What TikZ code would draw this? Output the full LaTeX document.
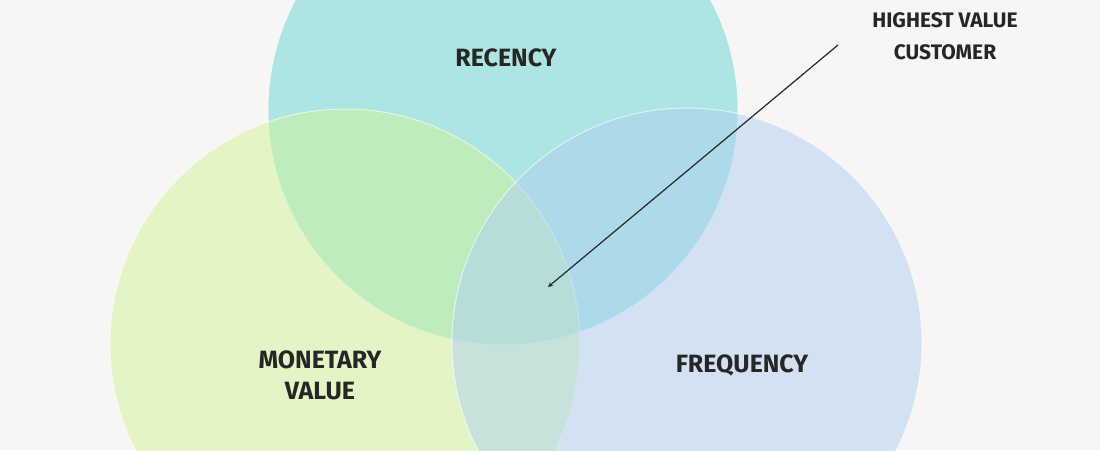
\documentclass[tikz,border=0pt]{standalone}
\usepackage{fontspec}
\setmainfont{Fira Sans}
\begin{document}
\begin{tikzpicture}[x=1pt,y=-1pt,
  circ/.style={fill opacity=0.5,draw=white,draw opacity=0.6,line width=1pt},
  lab/.style={font=\fontsize{25}{31}\selectfont\bfseries,align=center,text=black!85},
  ann/.style={font=\fontsize{21}{32}\selectfont\bfseries,align=center,text=black!85}]
\definecolor{bg}{RGB}{247,246,244}
\definecolor{rc}{RGB}{99,214,208}
\definecolor{mc}{RGB}{209,244,152}
\definecolor{fc}{RGB}{175,208,242}
\clip (0,0) rectangle (1100,450);
\fill[bg] (0,0) rectangle (1100,450);
\useasboundingbox (0,0) rectangle (1100,450);
\path[circ,fill=rc] (503,110) circle (235);
\path[circ,fill=mc] (345,344) circle (235);
\path[circ,fill=fc] (687,343) circle (235);
\node[lab] (r) at (506,58) {RECENCY};
\node[lab] (m) at (320,375) {MONETARY\\VALUE};
\node[lab] (f) at (742,365) {FREQUENCY};
\node[ann] (h) at (945,36) {HIGHEST VALUE\\CUSTOMER};
\coordinate (s) at (838,45);
\coordinate (e) at (548,287);
\draw[-stealth,line width=1.2pt,black!85] (s) -- (e);
\end{tikzpicture}
\end{document}
